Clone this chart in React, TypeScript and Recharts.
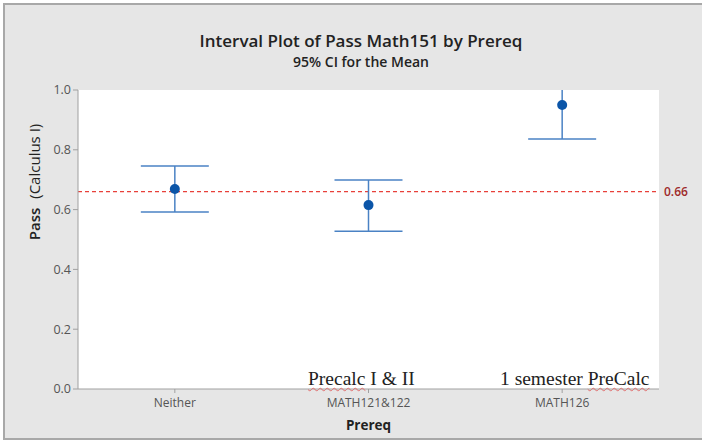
import { ComposedChart, Line, ErrorBar, XAxis, YAxis, CartesianGrid, ReferenceLine } from "recharts"

const prereqs = ["Neither", "MATH121&122", "MATH126"]
const means = [0.669, 0.615, 0.95]
const lowers = [0.592, 0.528, 0.836]
const uppers = [0.746, 0.699, 1.06]
const yTicks = [0, 0.2, 0.4, 0.6, 0.8, 1.0]
const target = 0.66

const data = prereqs.map((p, i) => ({
  prereq: p,
  mean: means[i],
  ci: [means[i] - lowers[i], uppers[i] - means[i]],
}))

const font = "'Open Sans', 'Noto Sans', sans-serif"

const YLabel = () => (
  <text
    x={40}
    y={182}
    transform="rotate(-90, 40, 182)"
    textAnchor="middle"
    fontFamily={font}
    fontSize={15}
    fill="#222"
  >
    <tspan fontWeight={600}>Pass</tspan>
    <tspan dx={9}>(Calculus I)</tspan>
  </text>
)

const wavy = { textDecoration: "underline wavy #e07070", textDecorationThickness: 1, textUnderlineOffset: 2 }

export default function App() {
  return (
    <div style={{ position: "absolute", left: 0, top: 0, width: 702, height: 440, background: "#fff", overflow: "hidden" }}>
      <div
        style={{
          position: "absolute",
          left: 3,
          top: 3,
          width: 710,
          height: 433,
          background: "#e6e6e6",
          borderLeft: "2px solid #a8a8a8",
          borderTop: "2px solid #a8a8a8",
          borderBottom: "2px solid #a8a8a8",
        }}
      />
      <div style={{ position: "absolute", left: 0, top: 0 }}>
        <ComposedChart width={702} height={440} data={data} margin={{ top: 90, right: 43, bottom: 0, left: 0 }}>
          <CartesianGrid horizontal={false} vertical={false} fill="#fff" />
          <XAxis
            dataKey="prereq"
            type="category"
            scale="band"
            height={51}
            tickSize={4}
            tickMargin={5}
            stroke="#a0a0a0"
            tick={{ fill: "#555", fontSize: 12, fontFamily: font }}
            label={{ value: "Prereq", position: "insideBottom", offset: 10, fill: "#222", fontSize: 13.5, fontWeight: 700, fontFamily: font }}
          />
          <XAxis xAxisId="top" orientation="top" dataKey="prereq" scale="band" height={0} tick={false} tickLine={false} stroke="#cfcfcf" />
          <YAxis
            domain={[0, 1]}
            ticks={yTicks}
            allowDataOverflow
            width={78}
            tickSize={5}
            tickMargin={2}
            stroke="#a0a0a0"
            tickFormatter={(v: number) => v.toFixed(1)}
            tick={{ fill: "#555", fontSize: 12.5, fontFamily: font }}
            label={<YLabel />}
          />
          <YAxis yAxisId="right" orientation="right" width={0} domain={[0, 1]} tick={false} tickLine={false} stroke="#cfcfcf" />
          <ReferenceLine
            y={target}
            stroke="#e8403a"
            strokeDasharray="4 3"
            strokeWidth={1.2}
            label={{ value: target.toFixed(2), position: "right", fill: "#9e2a2a", fontSize: 12, fontWeight: 600, fontFamily: font }}
          />
          <Line
            dataKey="mean"
            stroke="none"
            isAnimationActive={false}
            dot={{ r: 5, fill: "#0b55a8", stroke: "#0b55a8", strokeWidth: 0 }}
            activeDot={false}
          >
            <ErrorBar dataKey="ci" direction="y" width={34} stroke="#4a82c4" strokeWidth={1.5} />
          </Line>
        </ComposedChart>
      </div>
      {/* hides the part of the interval that runs past 1.0, as Minitab clips it */}
      <div style={{ position: "absolute", left: 78, top: 5, width: 600, height: 84.5, background: "#e6e6e6" }} />
      <div style={{ position: "absolute", left: 0, width: 722, top: 29, textAlign: "center", fontFamily: font, fontSize: 17, fontWeight: 600, color: "#222" }}>
        Interval Plot of Pass Math151 by Prereq
      </div>
      <div style={{ position: "absolute", left: 0, width: 722, top: 52, textAlign: "center", fontFamily: font, fontSize: 14, fontWeight: 600, color: "#222" }}>
        95% CI for the Mean
      </div>
      <div style={{ position: "absolute", left: 308, top: 368, fontFamily: "'Liberation Serif', serif", fontSize: 19.5, color: "#222" }}>
        <span style={wavy}>Precalc</span> I &amp; II
      </div>
      <div style={{ position: "absolute", left: 500, top: 368, fontFamily: "'Liberation Serif', serif", fontSize: 19.5, color: "#222" }}>
        1 semester <span style={wavy}>PreCalc</span>
      </div>
    </div>
  )
}
